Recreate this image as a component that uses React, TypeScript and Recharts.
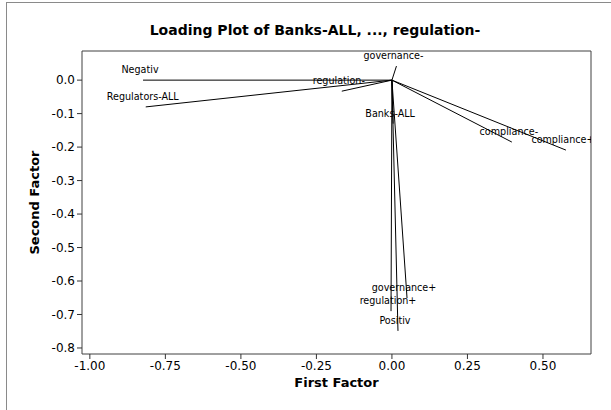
import { ScatterChart, Scatter, XAxis, YAxis, ReferenceArea, Label } from "recharts";

const names = [
  "Negativ",
  "Regulators-ALL",
  "regulation-",
  "governance-",
  "Banks-ALL",
  "compliance-",
  "compliance+",
  "governance+",
  "regulation+",
  "Positiv",
];
const firstFactor = [-0.824, -0.815, -0.166, 0.015, 0.004, 0.397, 0.576, 0.05, -0.003, 0.02];
const secondFactor = [0.0, -0.08, -0.033, 0.042, -0.13, -0.185, -0.209, -0.651, -0.69, -0.749];
const xTicks = [-1, -0.75, -0.5, -0.25, 0, 0.25, 0.5];
const yTicks = [0, -0.1, -0.2, -0.3, -0.4, -0.5, -0.6, -0.7, -0.8];

const X_DOMAIN: [number, number] = [-1.026, 0.659];
const Y_DOMAIN: [number, number] = [-0.818, 0.087];
const FONT = "DejaVu Sans, Verdana, sans-serif";

// only the far end of each loading line gets a label, no marker
const EndLabel = (props: any) => {
  const { cx, cy, payload } = props;
  if (!payload || !payload.name) return <g />;
  return (
    <text x={cx - 3} y={cy - 7} textAnchor="middle" fontSize={9.6} fontFamily={FONT} fill="#000">
      {payload.name}
    </text>
  );
};

export default function App() {
  return (
    <div style={{ position: "absolute", left: 0, top: 0, width: 611, height: 410, background: "#fff", overflow: "hidden" }}>
      <div
        style={{
          position: "absolute",
          left: 6,
          top: 2,
          width: 620,
          height: 420,
          borderTop: "1px solid #8a8a8a",
          borderLeft: "1px solid #8a8a8a",
        }}
      />
      <div
        style={{
          position: "absolute",
          left: 0,
          top: 21,
          width: 630,
          textAlign: "center",
          fontFamily: FONT,
          fontWeight: "bold",
          fontSize: 14,
          lineHeight: "18px",
          color: "#000",
        }}
      >
        Loading Plot of Banks-ALL, ..., regulation-
      </div>
      <div style={{ position: "absolute", left: 0, top: 0 }}>
        <ScatterChart width={611} height={410} margin={{ top: 51, right: 20, bottom: 16, left: 22 }}>
          <XAxis
            type="number"
            dataKey="x"
            domain={X_DOMAIN}
            ticks={xTicks}
            allowDataOverflow
            axisLine={false}
            tickLine={{ stroke: "#333" }}
            tickSize={5}
            height={40}
            tick={{ fill: "#000", fontSize: 12, fontFamily: FONT }}
            tickFormatter={(v: number) => v.toFixed(2)}
          >
            <Label
              content={(p: any) => {
                const vb = p.viewBox;
                return (
                  <text x={vb.x + vb.width / 2} y={vb.y + 33} textAnchor="middle" fontSize={13} fontWeight="bold" fontFamily={FONT} fill="#000">
                    First Factor
                  </text>
                );
              }}
            />
          </XAxis>
          <YAxis
            type="number"
            dataKey="y"
            domain={Y_DOMAIN}
            ticks={yTicks}
            allowDataOverflow
            axisLine={false}
            tickLine={{ stroke: "#333" }}
            tickSize={5}
            width={60}
            tick={{ fill: "#000", fontSize: 12, fontFamily: FONT }}
            tickFormatter={(v: number) => v.toFixed(1)}
          >
            <Label
              content={(p: any) => {
                const vb = p.viewBox;
                const cx = 34;
                const cy = vb.y + vb.height / 2;
                return (
                  <text
                    x={cx}
                    y={cy}
                    transform={`rotate(-90 ${cx} ${cy})`}
                    textAnchor="middle"
                    dominantBaseline="central"
                    fontSize={13}
                    fontWeight="bold"
                    fontFamily={FONT}
                    fill="#000"
                  >
                    Second Factor
                  </text>
                );
              }}
            />
          </YAxis>
          <ReferenceArea
            x1={X_DOMAIN[0]}
            x2={X_DOMAIN[1]}
            y1={Y_DOMAIN[0]}
            y2={Y_DOMAIN[1]}
            fill="none"
            stroke="#404040"
            strokeWidth={1}
          />
          {names.map((name, i) => (
            <Scatter
              key={name}
              data={[
                { x: 0, y: 0, name: "" },
                { x: firstFactor[i], y: secondFactor[i], name },
              ]}
              line={{ stroke: "#000", strokeWidth: 1 }}
              shape={EndLabel}
              isAnimationActive={false}
            />
          ))}
        </ScatterChart>
      </div>
    </div>
  );
}
